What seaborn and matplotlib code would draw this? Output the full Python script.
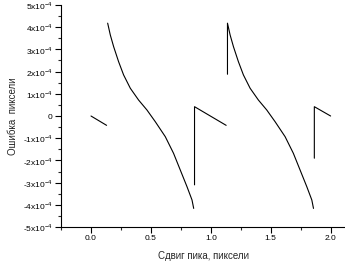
import matplotlib
matplotlib.use("Agg")
import matplotlib.pyplot as plt
import pandas as pd
import seaborn as sns
from matplotlib.ticker import MultipleLocator, FixedLocator, FixedFormatter

sns.set_style("ticks")
plt.rcParams["font.family"] = ["Liberation Sans", "DejaVu Sans"]
plt.rcParams["mathtext.fontset"] = "custom"
plt.rcParams["mathtext.rm"] = "Liberation Sans"

# pixel-shift error (x in pixels, y in pixels)
seg_a_x = [0.0, 0.13]
seg_a_y = [0.0, -0.42e-4]

seg_b_x = [0.139, 0.161, 0.189, 0.230, 0.272, 0.328, 0.397, 0.467, 0.537, 0.620,
           0.689, 0.745, 0.801, 0.843, 0.857]
seg_b_y = [4.18e-4, 3.65e-4, 3.12e-4, 2.45e-4, 1.85e-4, 1.25e-4, 0.72e-4, 0.27e-4,
           -0.26e-4, -0.93e-4, -1.68e-4, -2.43e-4, -3.18e-4, -3.78e-4, -4.16e-4]

seg_c_x = [0.864, 0.864, 1.128]
seg_c_y = [-3.1e-4, 0.42e-4, -0.42e-4]

seg_d_x = [1.139, 1.139, 1.161, 1.189, 1.230, 1.272, 1.328, 1.397, 1.467, 1.537, 1.620,
           1.689, 1.745, 1.801, 1.843, 1.857]
seg_d_y = [1.88e-4, 4.18e-4, 3.65e-4, 3.12e-4, 2.45e-4, 1.85e-4, 1.25e-4, 0.72e-4, 0.27e-4,
           -0.26e-4, -0.93e-4, -1.68e-4, -2.43e-4, -3.18e-4, -3.78e-4, -4.16e-4]

seg_e_x = [1.864, 1.864, 2.0]
seg_e_y = [-1.9e-4, 0.42e-4, 0.0]

y_ticks = [-5e-4, -4e-4, -3e-4, -2e-4, -1e-4, 0, 1e-4, 2e-4, 3e-4, 4e-4, 5e-4]
y_labels = ["-5x10$^{-4}$", "-4x10$^{-4}$", "-3x10$^{-4}$", "-2x10$^{-4}$", "-1x10$^{-4}$",
            "0", "1x10$^{-4}$", "2x10$^{-4}$", "3x10$^{-4}$", "4x10$^{-4}$", "5x10$^{-4}$"]
x_ticks = [0.0, 0.5, 1.0, 1.5, 2.0]
x_labels = ["0.0", "0.5", "1.0", "1.5", "2.0"]

segments = [(seg_a_x, seg_a_y), (seg_b_x, seg_b_y), (seg_c_x, seg_c_y),
            (seg_d_x, seg_d_y), (seg_e_x, seg_e_y)]

fig = plt.figure(figsize=(3.45, 2.61), dpi=100)
ax = fig.add_axes([0.177, 0.13, 0.823, 0.851])
for xs, ys in segments:
    df = pd.DataFrame({"x": xs, "y": ys})
    sns.lineplot(data=df, x="x", y="y", sort=False, estimator=None, color="black",
                 linewidth=0.8, ax=ax)

ax.set_xlim(-0.25, 2.12)
ax.set_ylim(-5e-4, 5e-4)
ax.xaxis.set_major_locator(FixedLocator(x_ticks))
ax.xaxis.set_major_formatter(FixedFormatter(x_labels))
ax.xaxis.set_minor_locator(MultipleLocator(0.25))
ax.yaxis.set_major_locator(FixedLocator(y_ticks))
ax.yaxis.set_major_formatter(FixedFormatter(y_labels))
ax.yaxis.set_minor_locator(MultipleLocator(0.5e-4))
ax.tick_params(which="major", length=4, width=0.8, labelsize=6, pad=2, colors="black")
ax.tick_params(which="minor", length=2, width=0.8)
ax.set_xlabel("Сдвиг пика, пиксели", fontsize=7, labelpad=6)
ax.set_ylabel("Ошибка  пиксели", fontsize=7, labelpad=4)
for s in ["left", "bottom"]:
    ax.spines[s].set_linewidth(0.8)
    ax.spines[s].set_color("black")
sns.despine(ax=ax)
fig.savefig("out.png", dpi=100)
